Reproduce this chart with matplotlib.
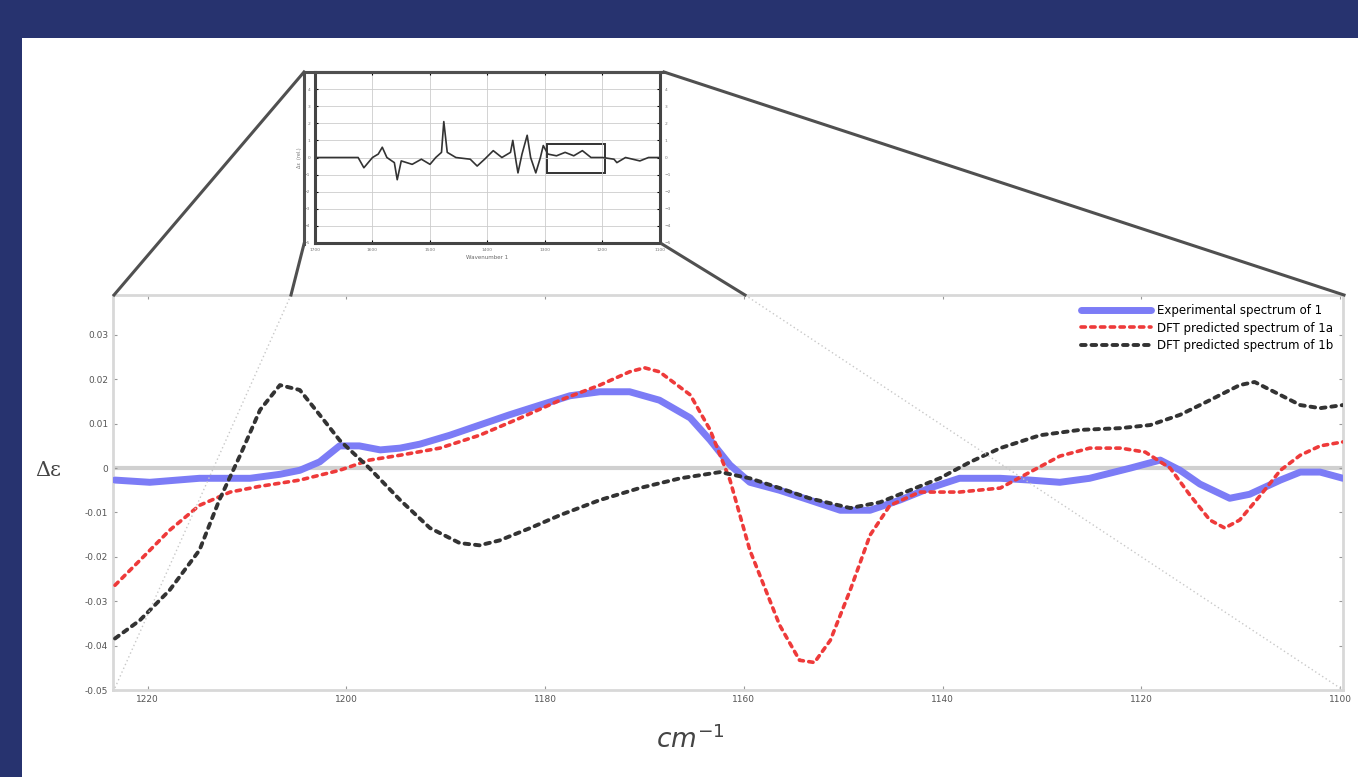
import matplotlib
matplotlib.use("Agg")
import matplotlib.pyplot as plt
from matplotlib.lines import Line2D
from matplotlib.patches import Rectangle

# ---------------- data ----------------
exp_x = [1223.3, 1219.8, 1214.8, 1209.7, 1206.7, 1204.7, 1202.7, 1200.7, 1198.7, 1196.6,
         1194.6, 1192.6, 1189.6, 1186.6, 1183.6, 1180.5, 1177.5, 1174.5, 1171.5, 1168.5,
         1165.4, 1163.4, 1161.4, 1159.4, 1156.4, 1153.4, 1150.3, 1147.3, 1144.3, 1141.3,
         1138.3, 1134.2, 1131.2, 1128.2, 1125.2, 1121.1, 1118.1, 1116.1, 1114.1, 1111.1,
         1109.1, 1106.0, 1104.0, 1102.0, 1099.7]
exp_y = [-0.0027, -0.0032, -0.0023, -0.0023, -0.0014, -0.0005, 0.0014, 0.0050, 0.0050, 0.0041,
         0.0045, 0.0054, 0.0074, 0.0097, 0.0120, 0.0142, 0.0163, 0.0172, 0.0172, 0.0153,
         0.0113, 0.0063, 0.0007, -0.0032, -0.0050, -0.0072, -0.0095, -0.0095, -0.0072, -0.0045,
         -0.0023, -0.0023, -0.0027, -0.0032, -0.0023, 0.0000, 0.0018, -0.0005, -0.0036, -0.0068,
         -0.0059, -0.0027, -0.0009, -0.0009, -0.0023]

dfta_x = [1223.3, 1220.8, 1217.8, 1214.8, 1211.7, 1208.7, 1204.7, 1200.7, 1197.7, 1194.6,
          1190.6, 1186.6, 1182.5, 1178.5, 1174.5, 1171.5, 1170.0, 1168.5, 1165.4, 1163.4,
          1161.4, 1159.4, 1156.4, 1154.4, 1152.9, 1151.3, 1149.3, 1147.3, 1145.3, 1142.3,
          1138.3, 1134.2, 1131.2, 1128.2, 1125.2, 1122.1, 1119.6, 1117.1, 1115.1, 1113.1,
          1111.6, 1110.1, 1108.0, 1106.0, 1104.0, 1102.0, 1099.7]
dfta_y = [-0.0264, -0.0208, -0.0140, -0.0084, -0.0054, -0.0041, -0.0027, -0.0005, 0.0018, 0.0029,
          0.0045, 0.0074, 0.0113, 0.0153, 0.0187, 0.0217, 0.0226, 0.0217, 0.0165, 0.0086,
          -0.0027, -0.0185, -0.0354, -0.0433, -0.0438, -0.0388, -0.0275, -0.0151, -0.0084, -0.0054,
          -0.0054, -0.0045, -0.0009, 0.0027, 0.0045, 0.0045, 0.0036, 0.0000, -0.0061, -0.0117,
          -0.0135, -0.0117, -0.0061, -0.0005, 0.0029, 0.0050, 0.0059]

dftb_x = [1223.3, 1220.8, 1217.8, 1214.8, 1212.8, 1210.7, 1208.7, 1206.7, 1204.7, 1202.7,
          1200.7, 1197.7, 1194.6, 1191.6, 1188.6, 1186.6, 1184.6, 1181.5, 1178.5, 1174.5,
          1170.5, 1166.4, 1162.4, 1159.4, 1156.4, 1153.4, 1149.3, 1146.3, 1143.3, 1140.3,
          1137.2, 1134.2, 1130.2, 1126.2, 1122.1, 1119.1, 1116.1, 1113.1, 1110.1, 1108.6,
          1107.0, 1104.0, 1102.0, 1099.7]
dftb_y = [-0.0384, -0.0343, -0.0275, -0.0185, -0.0072, 0.0029, 0.0131, 0.0187, 0.0176, 0.0120,
          0.0063, 0.0000, -0.0072, -0.0135, -0.0169, -0.0174, -0.0163, -0.0135, -0.0106, -0.0072,
          -0.0045, -0.0023, -0.0009, -0.0023, -0.0045, -0.0068, -0.0090, -0.0077, -0.0050, -0.0023,
          0.0014, 0.0045, 0.0074, 0.0086, 0.0090, 0.0097, 0.0120, 0.0153, 0.0187, 0.0194,
          0.0176, 0.0142, 0.0135, 0.0142]

x_ticks = [1220, 1200, 1180, 1160, 1140, 1120, 1100]
y_ticks = [-0.05, -0.04, -0.03, -0.02, -0.01, 0, 0.01, 0.02, 0.03]
legend_labels = ["Experimental spectrum of 1", "DFT predicted spectrum of 1a",
                 "DFT predicted spectrum of 1b"]

# inset (full-range spectrum)
ins_x = [1700, 1625, 1615, 1600, 1590, 1583, 1575, 1562, 1557, 1550, 1531, 1515, 1500, 1490,
         1480, 1476, 1470, 1455, 1430, 1418, 1405, 1390, 1375, 1360, 1356, 1350, 1347, 1340,
         1331, 1325, 1316, 1308, 1303, 1295, 1280, 1265, 1250, 1235, 1220, 1200, 1180, 1175,
         1160, 1135, 1120, 1100]
ins_y = [0, 0, -0.6, 0, 0.2, 0.6, 0, -0.3, -1.3, -0.2, -0.4, -0.1, -0.4, 0,
         0.3, 2.1, 0.3, 0, -0.1, -0.5, -0.1, 0.4, 0, 0.3, 1.0, -0.3, -0.9, 0.2,
         1.3, 0, -0.9, 0, 0.7, 0.2, 0.1, 0.3, 0.1, 0.4, 0, 0, -0.1, -0.3,
         0, -0.2, 0, 0]
ins_xticks = [1700, 1600, 1500, 1400, 1300, 1200, 1100]
ins_yticks = [-5, -4, -3, -2, -1, 0, 1, 2, 3, 4, 5]
ins_box = (1196, -0.9, 101, 1.7)  # x, y, width, height in inset data units

# ---------------- figure ----------------
W, H = 1358, 777
fig = plt.figure(figsize=(W / 100, H / 100), dpi=100)
fig.patch.set_facecolor("white")

def fx(px):
    return px / W

def fy(py):
    return 1 - py / H

navy = "#27336f"
fig.add_artist(Rectangle((0, fy(38)), 1, 38 / H, transform=fig.transFigure,
                         facecolor=navy, edgecolor="none", zorder=0))
fig.add_artist(Rectangle((0, 0), 22 / W, 1, transform=fig.transFigure,
                         facecolor=navy, edgecolor="none", zorder=0))

# main axes
ax = fig.add_axes([fx(113), fy(690), fx(1343) - fx(113), fy(295) - fy(690)])
ax.axhline(0, color="#d0d0d0", lw=3, zorder=1)
ax.plot(exp_x, exp_y, color="#7c7cf6", lw=5, solid_capstyle="round",
        solid_joinstyle="round", label=legend_labels[0], zorder=3)
ax.plot(dfta_x, dfta_y, color="#ee3a3a", lw=2.6, linestyle=(0, (1.2, 1.5)),
        dash_capstyle="round", label=legend_labels[1], zorder=4)
ax.plot(dftb_x, dftb_y, color="#333333", lw=2.8, linestyle=(0, (1.2, 1.5)),
        dash_capstyle="round", label=legend_labels[2], zorder=4)
ax.set_xlim(1223.5, 1099.7)
ax.set_ylim(-0.05, 0.039)
ax.set_xticks(x_ticks)
ax.set_yticks(y_ticks)
ax.set_xticklabels([str(v) for v in x_ticks])
ax.set_yticklabels(["%g" % v for v in y_ticks])
ax.tick_params(direction="in", length=3, width=0.8, color="#999999",
               labelsize=6.5, labelcolor="#555555", top=True, right=True)
for s in ax.spines.values():
    s.set_color("#d8d8d8")
    s.set_linewidth(2)
ax.set_ylabel("Δε", family="DejaVu Serif", fontsize=15, color="#444444",
              rotation=0, va="center")
ax.yaxis.set_label_coords((48 - 113) / 1230, (690 - 470) / 395)
ax.set_xlabel(r"$cm^{-1}$", fontsize=19, color="#444444")
ax.xaxis.set_label_coords((690 - 113) / 1230, -(726 - 690) / 395)
leg = ax.legend(loc="upper right", fontsize=8.5, frameon=False, handlelength=6.0,
                borderaxespad=0.4, labelspacing=0.35, handletextpad=0.5)

# inset axes
ia = fig.add_axes([fx(315), fy(243), fx(660) - fx(315), fy(72) - fy(243)])
ia.plot(ins_x, ins_y, color="#333333", lw=1.2)
ia.add_patch(Rectangle((ins_box[0], ins_box[1]), ins_box[2], ins_box[3],
                       fill=False, edgecolor="#333333", lw=1.4))
ia.set_xlim(1700, 1100)
ia.set_ylim(-5, 5)
ia.set_xticks(ins_xticks)
ia.set_yticks(ins_yticks)
ia.grid(True, color="#cccccc", lw=0.6)
ia.tick_params(direction="in", length=2, labelsize=3.2, labelcolor="#777777",
               right=True, labelright=True, top=True)
for s in ia.spines.values():
    s.set_color("#444444")
    s.set_linewidth(2.2)
ia.set_xlabel("Wavenumber 1", fontsize=4, color="#666666", labelpad=2)
ia.set_ylabel("Δε  (rel.)", fontsize=3.5, color="#777777", labelpad=1)

# zoom connector lines
conn = dict(color="#505050", lw=2.2, transform=fig.transFigure, zorder=10)
fig.add_artist(Line2D([fx(304), fx(114)], [fy(72), fy(295)], **conn))
fig.add_artist(Line2D([fx(664), fx(1344)], [fy(72), fy(295)], **conn))
fig.add_artist(Line2D([fx(304), fx(291)], [fy(244), fy(295)], **conn))
fig.add_artist(Line2D([fx(662), fx(745)], [fy(244), fy(295)], **conn))
fig.add_artist(Line2D([fx(304), fx(664)], [fy(72), fy(72)], **conn))
fig.add_artist(Line2D([fx(304), fx(304)], [fy(72), fy(244)], **conn))
faint = dict(color="#c8c8c8", lw=1.0, linestyle=(0, (1, 2)),
             transform=fig.transFigure, zorder=2)
fig.add_artist(Line2D([fx(291), fx(114)], [fy(295), fy(690)], **faint))
fig.add_artist(Line2D([fx(745), fx(1343)], [fy(295), fy(690)], **faint))

fig.savefig("out.png", dpi=100)
